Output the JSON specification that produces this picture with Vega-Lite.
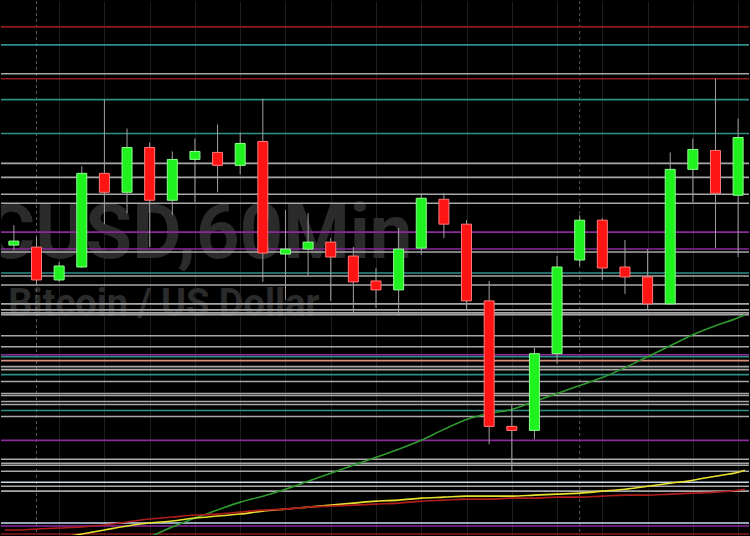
{
  "$schema": "https://vega.github.io/schema/vega-lite/v6.json",
  "width": 750,
  "height": 536,
  "autosize": {"type": "fit", "contains": "padding"},
  "padding": 0,
  "background": "#000000",
  "config": {"view": {"stroke": null}},
  "resolve": {"scale": {"color": "independent"}},
  "datasets": {
    "candles": [
      {"i": 1, "o": 7755, "c": 7759, "h": 7775, "l": 7750},
      {"i": 2, "o": 7753, "c": 7720, "h": 7763, "l": 7716},
      {"i": 3, "o": 7720, "c": 7734, "h": 7738, "l": 7718},
      {"i": 4, "o": 7733, "c": 7827, "h": 7834, "l": 7732},
      {"i": 5, "o": 7827, "c": 7808, "h": 7901, "l": 7776},
      {"i": 6, "o": 7808, "c": 7853, "h": 7872, "l": 7787},
      {"i": 7, "o": 7853, "c": 7800, "h": 7858, "l": 7753},
      {"i": 8, "o": 7800, "c": 7841, "h": 7849, "l": 7785},
      {"i": 9, "o": 7841, "c": 7849, "h": 7862, "l": 7798},
      {"i": 10, "o": 7848, "c": 7835, "h": 7876, "l": 7808},
      {"i": 11, "o": 7835, "c": 7857, "h": 7868, "l": 7826},
      {"i": 12, "o": 7859, "c": 7747, "h": 7902, "l": 7718},
      {"i": 13, "o": 7746, "c": 7751, "h": 7790, "l": 7700},
      {"i": 14, "o": 7751, "c": 7758, "h": 7787, "l": 7724},
      {"i": 15, "o": 7758, "c": 7743, "h": 7762, "l": 7699},
      {"i": 16, "o": 7744, "c": 7718, "h": 7753, "l": 7685},
      {"i": 17, "o": 7719, "c": 7710, "h": 7732, "l": 7692},
      {"i": 18, "o": 7710, "c": 7751, "h": 7772, "l": 7684},
      {"i": 19, "o": 7752, "c": 7802, "h": 7807, "l": 7745},
      {"i": 20, "o": 7801, "c": 7776, "h": 7807, "l": 7762},
      {"i": 21, "o": 7776, "c": 7699, "h": 7780, "l": 7690},
      {"i": 22, "o": 7699, "c": 7573, "h": 7719, "l": 7555},
      {"i": 23, "o": 7573, "c": 7569, "h": 7595, "l": 7528},
      {"i": 24, "o": 7569, "c": 7646, "h": 7652, "l": 7560},
      {"i": 25, "o": 7646, "c": 7733, "h": 7744, "l": 7636},
      {"i": 26, "o": 7740, "c": 7780, "h": 7785, "l": 7734},
      {"i": 27, "o": 7780, "c": 7732, "h": 7782, "l": 7720},
      {"i": 28, "o": 7733, "c": 7723, "h": 7760, "l": 7706},
      {"i": 29, "o": 7723, "c": 7696, "h": 7751, "l": 7690},
      {"i": 30, "o": 7696, "c": 7831, "h": 7848, "l": 7695},
      {"i": 31, "o": 7831, "c": 7851, "h": 7862, "l": 7798},
      {"i": 32, "o": 7850, "c": 7807, "h": 7922, "l": 7752},
      {"i": 33, "o": 7805, "c": 7863, "h": 7882, "l": 7743}
    ],
    "levels": [
      {"p": 7974, "kind": "red"}, {"p": 7922, "kind": "red"}, {"p": 7465, "kind": "red"},
      {"p": 7956, "kind": "teal"}, {"p": 7901, "kind": "teal"}, {"p": 7867, "kind": "teal"}, {"p": 7727, "kind": "teal"}, {"p": 7643, "kind": "teal"}, {"p": 7625, "kind": "teal"}, {"p": 7589, "kind": "teal"},
      {"p": 7927, "kind": "grey"}, {"p": 7837, "kind": "grey"}, {"p": 7823, "kind": "grey"}, {"p": 7806, "kind": "grey"}, {"p": 7797, "kind": "grey"}, {"p": 7748, "kind": "grey"}, {"p": 7724, "kind": "grey"}, {"p": 7715, "kind": "grey"}, {"p": 7696, "kind": "grey"}, {"p": 7690, "kind": "grey"}, {"p": 7687, "kind": "grey"}, {"p": 7685, "kind": "grey"}, {"p": 7664, "kind": "grey"}, {"p": 7653, "kind": "grey"}, {"p": 7633, "kind": "grey"}, {"p": 7630, "kind": "grey"}, {"p": 7618, "kind": "grey"}, {"p": 7606, "kind": "grey"}, {"p": 7604, "kind": "grey"}, {"p": 7598, "kind": "grey"}, {"p": 7595, "kind": "grey"}, {"p": 7583, "kind": "grey"}, {"p": 7540, "kind": "grey"}, {"p": 7536, "kind": "grey"}, {"p": 7534, "kind": "grey"}, {"p": 7528, "kind": "grey"}, {"p": 7513, "kind": "grey"}, {"p": 7508, "kind": "grey"},
      {"p": 7768, "kind": "purple"}, {"p": 7751, "kind": "purple"}, {"p": 7645, "kind": "purple"}, {"p": 7559, "kind": "purple"}, {"p": 7473, "kind": "purple"},
      {"p": 7639, "kind": "salmon"},
      {"p": 7517, "kind": "pale"}, {"p": 7476, "kind": "pale"}
    ],
    "ma": [
      {"i": 7, "ma": "green", "p": 7462}, {"i": 8, "ma": "green", "p": 7472}, {"i": 9, "ma": "green", "p": 7481}, {"i": 10, "ma": "green", "p": 7489}, {"i": 11, "ma": "green", "p": 7497}, {"i": 12, "ma": "green", "p": 7503}, {"i": 13, "ma": "green", "p": 7510}, {"i": 14, "ma": "green", "p": 7518}, {"i": 15, "ma": "green", "p": 7526}, {"i": 16, "ma": "green", "p": 7534}, {"i": 17, "ma": "green", "p": 7542}, {"i": 18, "ma": "green", "p": 7550}, {"i": 19, "ma": "green", "p": 7559}, {"i": 20, "ma": "green", "p": 7570}, {"i": 21, "ma": "green", "p": 7580}, {"i": 22, "ma": "green", "p": 7586}, {"i": 23, "ma": "green", "p": 7590}, {"i": 24, "ma": "green", "p": 7598}, {"i": 25, "ma": "green", "p": 7606}, {"i": 26, "ma": "green", "p": 7614}, {"i": 27, "ma": "green", "p": 7622}, {"i": 28, "ma": "green", "p": 7632}, {"i": 29, "ma": "green", "p": 7643}, {"i": 30, "ma": "green", "p": 7654}, {"i": 31, "ma": "green", "p": 7665}, {"i": 32, "ma": "green", "p": 7674}, {"i": 33, "ma": "green", "p": 7682}, {"i": 33.3, "ma": "green", "p": 7685},
      {"i": 3, "ma": "yellow", "p": 7461}, {"i": 4, "ma": "yellow", "p": 7465}, {"i": 5, "ma": "yellow", "p": 7469}, {"i": 6, "ma": "yellow", "p": 7473}, {"i": 7, "ma": "yellow", "p": 7476}, {"i": 8, "ma": "yellow", "p": 7478}, {"i": 9, "ma": "yellow", "p": 7481}, {"i": 10, "ma": "yellow", "p": 7483}, {"i": 11, "ma": "yellow", "p": 7485}, {"i": 12, "ma": "yellow", "p": 7488}, {"i": 13, "ma": "yellow", "p": 7490}, {"i": 14, "ma": "yellow", "p": 7492}, {"i": 15, "ma": "yellow", "p": 7494}, {"i": 16, "ma": "yellow", "p": 7496}, {"i": 17, "ma": "yellow", "p": 7498}, {"i": 18, "ma": "yellow", "p": 7499}, {"i": 19, "ma": "yellow", "p": 7501}, {"i": 20, "ma": "yellow", "p": 7502}, {"i": 21, "ma": "yellow", "p": 7503}, {"i": 22, "ma": "yellow", "p": 7503}, {"i": 23, "ma": "yellow", "p": 7503}, {"i": 24, "ma": "yellow", "p": 7504}, {"i": 25, "ma": "yellow", "p": 7505}, {"i": 26, "ma": "yellow", "p": 7506}, {"i": 27, "ma": "yellow", "p": 7508}, {"i": 28, "ma": "yellow", "p": 7510}, {"i": 29, "ma": "yellow", "p": 7513}, {"i": 30, "ma": "yellow", "p": 7516}, {"i": 31, "ma": "yellow", "p": 7519}, {"i": 32, "ma": "yellow", "p": 7523}, {"i": 33, "ma": "yellow", "p": 7527}, {"i": 33.3, "ma": "yellow", "p": 7529},
      {"i": 0.6, "ma": "red", "p": 7469}, {"i": 1, "ma": "red", "p": 7469}, {"i": 2, "ma": "red", "p": 7470}, {"i": 3, "ma": "red", "p": 7471}, {"i": 4, "ma": "red", "p": 7472}, {"i": 5, "ma": "red", "p": 7474}, {"i": 6, "ma": "red", "p": 7477}, {"i": 7, "ma": "red", "p": 7480}, {"i": 8, "ma": "red", "p": 7482}, {"i": 9, "ma": "red", "p": 7484}, {"i": 10, "ma": "red", "p": 7485}, {"i": 11, "ma": "red", "p": 7487}, {"i": 12, "ma": "red", "p": 7489}, {"i": 13, "ma": "red", "p": 7490}, {"i": 14, "ma": "red", "p": 7492}, {"i": 15, "ma": "red", "p": 7493}, {"i": 16, "ma": "red", "p": 7494}, {"i": 17, "ma": "red", "p": 7495}, {"i": 18, "ma": "red", "p": 7496}, {"i": 19, "ma": "red", "p": 7498}, {"i": 20, "ma": "red", "p": 7499}, {"i": 21, "ma": "red", "p": 7500}, {"i": 22, "ma": "red", "p": 7500}, {"i": 23, "ma": "red", "p": 7501}, {"i": 24, "ma": "red", "p": 7501}, {"i": 25, "ma": "red", "p": 7502}, {"i": 26, "ma": "red", "p": 7502}, {"i": 27, "ma": "red", "p": 7503}, {"i": 28, "ma": "red", "p": 7504}, {"i": 29, "ma": "red", "p": 7504}, {"i": 30, "ma": "red", "p": 7505}, {"i": 31, "ma": "red", "p": 7506}, {"i": 32, "ma": "red", "p": 7507}, {"i": 33, "ma": "red", "p": 7509}, {"i": 33.3, "ma": "red", "p": 7510}
    ],
    "sessions": [{"i": 2}, {"i": 26}],
    "labels": [
      {"i": 18.61, "p": 7765, "label": "BTCUSD,60Min", "role": "big"},
      {"i": 0.75, "p": 7695, "label": "Bitcoin / US Dollar", "role": "small"}
    ]
  },
  "layer": [
    {
      "data": {"name": "labels"},
      "transform": [{"filter": "datum.role == 'big'"}],
      "mark": {"type": "text", "align": "right", "baseline": "middle", "fontSize": 76, "fontWeight": "bold", "font": "Roboto", "color": "#2b2b2b", "clip": true},
      "encoding": {
        "x": {"field": "i", "type": "quantitative", "scale": {"domain": [0.652, 33.26], "nice": false, "zero": false}, "axis": {"grid": true, "values": [3, 5, 7, 9, 11, 13, 15, 17, 19, 21, 23, 25, 27, 29, 31, 33], "gridColor": "#1e1e1e", "gridWidth": 1, "labels": false, "ticks": false, "domain": false, "title": null}},
        "y": {"field": "p", "type": "quantitative", "scale": {"domain": [7464, 8000], "nice": false, "zero": false}, "axis": null},
        "text": {"field": "label"}
      }
    },
    {
      "data": {"name": "labels"},
      "transform": [{"filter": "datum.role == 'small'"}],
      "mark": {"type": "text", "align": "left", "baseline": "middle", "fontSize": 38, "fontWeight": "bold", "font": "Roboto", "color": "#2b2b2b", "clip": true},
      "encoding": {
        "x": {"field": "i", "type": "quantitative"},
        "y": {"field": "p", "type": "quantitative", "axis": null},
        "text": {"field": "label"}
      }
    },
    {
      "data": {"name": "sessions"},
      "mark": {"type": "rule", "color": "#5a5a5a", "strokeDash": [3, 3], "strokeWidth": 1},
      "encoding": {"x": {"field": "i", "type": "quantitative"}}
    },
    {
      "data": {"name": "levels"},
      "mark": {"type": "rule", "strokeWidth": 1.6},
      "encoding": {
        "y": {"field": "p", "type": "quantitative", "axis": null},
        "color": {"field": "kind", "type": "nominal", "legend": null,
          "scale": {"domain": ["red", "teal", "grey", "purple", "salmon", "pale"], "range": ["#8e1c1c", "#2f8f88", "#a8a8a8", "#8a2a9a", "#d8907e", "#c8dcf0"]}}
      }
    },
    {
      "data": {"name": "ma"},
      "mark": {"type": "line", "strokeWidth": 1.6, "interpolate": "monotone", "clip": true},
      "encoding": {
        "x": {"field": "i", "type": "quantitative"},
        "y": {"field": "p", "type": "quantitative", "axis": null},
        "detail": {"field": "ma"},
        "stroke": {"field": "ma", "type": "nominal", "legend": null,
          "scale": {"domain": ["green", "yellow", "red"], "range": ["#2e9a2e", "#e8e030", "#b01c1c"]}}
      }
    },
    {
      "data": {"name": "candles"},
      "mark": {"type": "rule", "color": "#a0a0a0", "strokeWidth": 1},
      "encoding": {
        "x": {"field": "i", "type": "quantitative"},
        "y": {"field": "l", "type": "quantitative", "axis": null},
        "y2": {"field": "h"}
      }
    },
    {
      "data": {"name": "candles"},
      "mark": {"type": "bar", "size": 10, "strokeWidth": 1, "clip": true},
      "encoding": {
        "x": {"field": "i", "type": "quantitative"},
        "y": {"field": "o", "type": "quantitative", "axis": null},
        "y2": {"field": "c"},
        "fill": {"condition": {"test": "datum.c > datum.o", "value": "#1ff21f"}, "value": "#ff1414"},
        "stroke": {"condition": {"test": "datum.c > datum.o", "value": "#8cff8c"}, "value": "#ff7a7a"}
      }
    }
  ]
}
